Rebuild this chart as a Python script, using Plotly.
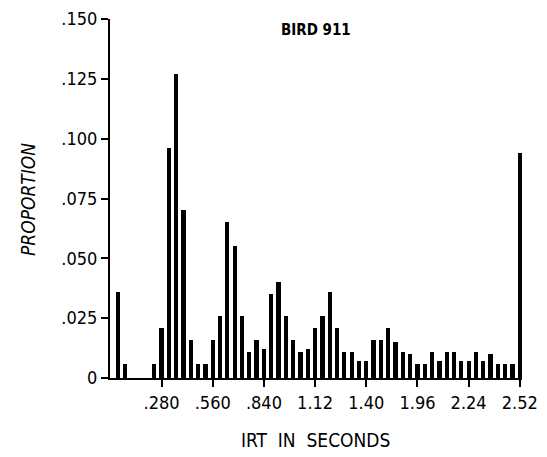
import plotly.graph_objects as go

# bin index (0.04 s bins), proportion per bin
bins = list(range(1, 57))
proportion = [
    0.036, 0.006, 0.0, 0.0, 0.0, 0.006, 0.021, 0.096, 0.127, 0.070,
    0.016, 0.006, 0.006, 0.016, 0.026, 0.065, 0.055, 0.026, 0.011, 0.016,
    0.012, 0.035, 0.040, 0.026, 0.016, 0.011, 0.012, 0.021, 0.026, 0.036,
    0.021, 0.011, 0.011, 0.007, 0.007, 0.016, 0.016, 0.021, 0.015, 0.011,
    0.010, 0.006, 0.006, 0.011, 0.007, 0.011, 0.011, 0.007, 0.007, 0.011,
    0.007, 0.010, 0.006, 0.006, 0.006, 0.094,
]
x_tick_pos = [7, 14, 21, 28, 35, 42, 49, 56]
x_tick_labels = [".280", ".560", ".840", "1.12", "1.40", "1.96", "2.24", "2.52"]
y_tick_vals = [0, 0.025, 0.05, 0.075, 0.1, 0.125, 0.15]
y_tick_labels = ["0", ".025", ".050", ".075", ".100", ".125", ".150"]

FONT = "DejaVu Sans Condensed, Liberation Sans Narrow, sans-serif"

L, R, T, B = 110, 25, 19, 79
W, H = 547, 457
pw, ph = W - L - R, H - T - B

fig = go.Figure(go.Bar(
    x=bins, y=proportion, width=0.58,
    marker=dict(color="black", line=dict(width=0)),
))

fig.update_layout(
    width=W, height=H,
    paper_bgcolor="white", plot_bgcolor="white",
    margin=dict(l=L, r=R, t=T, b=B, autoexpand=False),
    showlegend=False,
    bargap=0,
    font=dict(family=FONT, color="black", size=18),
    annotations=[
        dict(text="<b>BIRD 911</b>", x=(316 - L) / pw, y=(H - B - 30) / ph,
             xref="paper", yref="paper", showarrow=False,
             xanchor="center", yanchor="middle", font=dict(size=15)),
        dict(text="<i>PROPORTION</i>", x=(28 - L) / pw, y=(H - B - 200) / ph,
             xref="paper", yref="paper", textangle=-90, showarrow=False,
             xanchor="center", yanchor="middle", font=dict(size=19)),
        dict(text="IRT\u00a0\u00a0IN\u00a0\u00a0SECONDS", x=(315 - L) / pw,
             y=(H - B - 440) / ph, xref="paper", yref="paper", showarrow=False,
             xanchor="center", yanchor="middle", font=dict(size=19)),
    ],
)

fig.update_xaxes(
    range=[-0.05, 56.3], showgrid=False, zeroline=False, automargin=False,
    showline=True, linecolor="black", linewidth=2,
    ticks="outside", ticklen=7, tickwidth=2, tickcolor="black",
    tickvals=x_tick_pos, ticktext=x_tick_labels,
    tickfont=dict(size=18),
)
fig.update_yaxes(
    range=[0, 0.15], showgrid=False, zeroline=False, automargin=False,
    showline=True, linecolor="black", linewidth=2,
    ticks="outside", ticklen=7, tickwidth=2, tickcolor="black",
    tickvals=y_tick_vals, ticktext=y_tick_labels,
    tickfont=dict(size=18),
)

fig.write_html("out.html",
               config={"displayModeBar": False},
               post_script="document.body.style.margin='0';document.body.style.overflow='hidden';")
